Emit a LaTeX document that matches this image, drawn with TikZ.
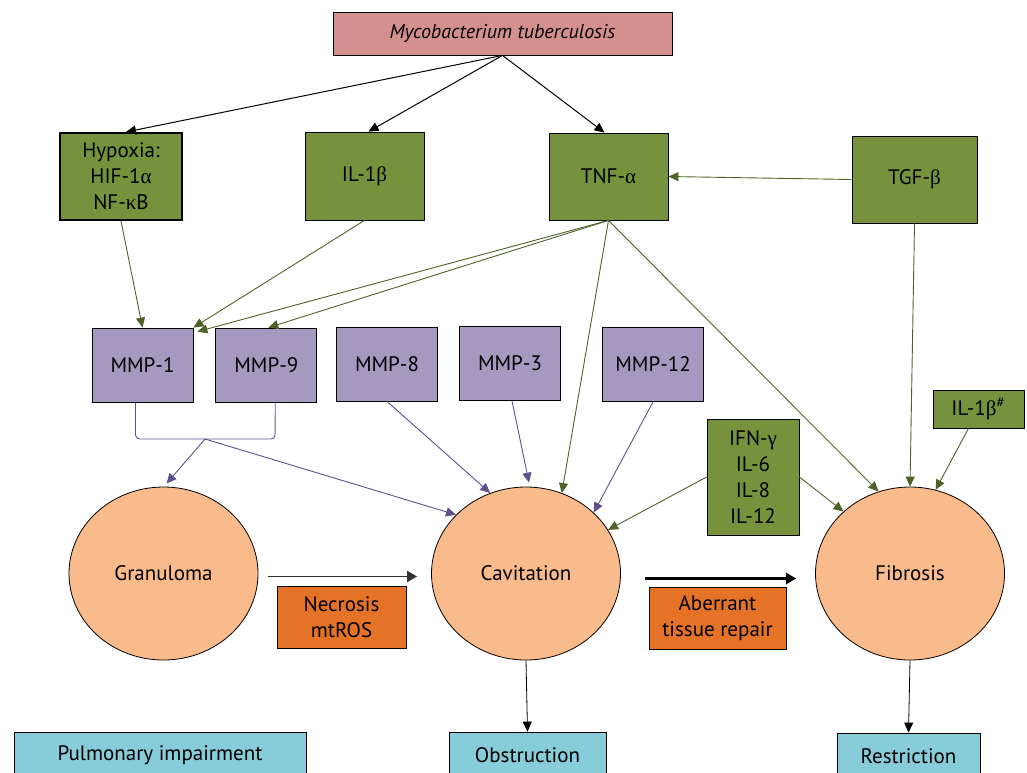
\documentclass[tikz,border=0pt]{standalone}
\usepackage{fontspec}
\setmainfont{PT Sans}
\newfontfamily\grk{Liberation Serif}
\usetikzlibrary{arrows.meta, positioning, calc, shapes.geometric}
\definecolor{MtbPink}{HTML}{D48F8F}
\definecolor{CytoGreen}{HTML}{76923C}
\definecolor{LineGreen}{HTML}{4F6228}
\definecolor{MmpPurple}{HTML}{A699C0}
\definecolor{LinePurple}{HTML}{5F4F8F}
\definecolor{LesionPeach}{HTML}{F9BA8C}
\definecolor{ProcOrange}{HTML}{E57327}
\definecolor{OutBlue}{HTML}{86CCD9}
\newcommand{\gk}[1]{{\grk #1}}
\tikzset{
  srcbox/.style={rectangle, draw=black, fill=MtbPink, font=\itshape, minimum width=169.5pt, minimum height=21.5pt, inner sep=2pt},
  cytobox/.style={rectangle, draw=black, fill=CytoGreen, align=center, inner sep=2pt},
  mmpbox/.style={rectangle, draw=black, fill=MmpPurple, minimum width=50.5pt, minimum height=37pt, inner sep=2pt},
  lesion/.style={ellipse, draw=black, fill=LesionPeach, minimum width=94.5pt, minimum height=86.5pt, inner sep=0pt},
  procbox/.style={rectangle, draw=black, fill=ProcOrange, align=center, minimum height=31pt, inner sep=2pt},
  outbox/.style={rectangle, draw=black, fill=OutBlue, minimum height=23pt, inner sep=2pt},
  blackarrow/.style={-{Triangle[length=5pt, width=4.5pt]}, line width=0.5pt, black},
  greenarrow/.style={-{Triangle[length=5pt, width=4.5pt]}, line width=0.45pt, LineGreen},
  mmparrow/.style={-{Triangle[length=5pt, width=4.5pt]}, line width=0.45pt, LinePurple},
  stagearrow/.style={-{Triangle[length=5pt, width=5.5pt]}, line width=1.4pt, black}
}

\begin{document}
\begin{tikzpicture}[x=0.5pt, y=-0.5pt, font=\fontsize{10.5}{13}\selectfont]
  \clip (0,0) rectangle (1027,772);

  % source
  \node[srcbox] (myco) at (502.5,33.5) {Mycobacterium tuberculosis};

  % cytokines
  \node[cytobox, minimum width=61pt, minimum height=43.5pt, line width=1pt] (hypoxia) at (121,176.5) {Hypoxia:\\HIF-1\gk{α}\\NF-\gk{κ}B};
  \node[cytobox, minimum width=59.5pt, minimum height=44pt] (ilb) at (364.5,176) {IL-1\gk{β}};
  \node[cytobox, minimum width=59.5pt, minimum height=43.5pt] (tnf) at (608.5,176.5) {TNF-\gk{α}};
  \node[cytobox, minimum width=62.5pt, minimum height=43.5pt] (tgf) at (914.5,179.5) {TGF-\gk{β}};
  \node[cytobox, minimum width=45.5pt, minimum height=19pt] (ilbhash) at (978.5,409) {IL-1\gk{β}$^{\#}$};
  \node[cytobox, minimum width=46pt, minimum height=58pt] (ifn) at (753,477) {IFN-\gk{γ}\\IL-6\\IL-8\\IL-12};

  % MMPs
  \node[mmpbox] (mmpone) at (142.5,365) {MMP-1};
  \node[mmpbox, right=11pt of mmpone] (mmpnine) {MMP-9};
  \node[mmpbox] (mmpeight) at (387,364) {MMP-8};
  \node[mmpbox] (mmpthree) at (510,363.5) {MMP-3};
  \node[mmpbox] (mmptwelve) at (653,364.5) {MMP-12};

  % lesions
  \node[lesion] (gran) at (163.5,573.5) {Granuloma};
  \node[lesion] (cav) at (526,573.5) {Cavitation};
  \node[lesion] (fib) at (910,573.5) {Fibrosis};

  \node[procbox, minimum width=64.5pt] (necro) at (341.5,617.5) {Necrosis\\mtROS};
  \node[procbox, minimum width=68.5pt] (aberr) at (717.5,618) {Aberrant\\tissue repair};

  % outcomes
  \node[outbox, minimum width=146pt] (pulm) at (160,755) {Pulmonary impairment};
  \node[outbox, minimum width=78.5pt] (obst) at (527.5,755) {Obstruction};
  \node[outbox, minimum width=71.5pt] (restr) at (908.5,756) {Restriction};

  % Mtb arrows
  \draw[blackarrow] (myco.south) -- ([xshift=2.5pt]hypoxia.north);
  \draw[blackarrow] (myco.south) -- ([xshift=2pt]ilb.north);
  \draw[blackarrow] (myco.south) -- ([xshift=-2pt]tnf.north);

  % cytokine arrows
  \draw[greenarrow] (tgf.west) -- (tnf.east);
  \draw[greenarrow] (hypoxia.south) -- (mmpone.north);
  \draw[greenarrow] (ilb.south) -- (mmpone.north east);
  \draw[greenarrow] (tnf.south) -- ([xshift=2pt,yshift=-2pt]mmpone.north east);
  \draw[greenarrow] (tnf.south) -- ([xshift=1pt]mmpnine.north);
  \draw[greenarrow] (tnf.south) -- (cav.66);
  \draw[greenarrow] (tnf.south) -- (fib.111);
  \draw[greenarrow] (tgf.south) -- (fib.90);
  \draw[greenarrow] ([xshift=-5pt]ilbhash.south) -- (fib.73);
  \draw[greenarrow] (ifn.west) -- (cav.28);
  \draw[greenarrow] (ifn.east) -- (fib.137);

  % MMP arrows
  \coordinate (brmid) at (205,439);
  \draw[LinePurple, line width=0.45pt, rounded corners=2pt] ([xshift=-3.5pt]mmpone.south) |- (275,439) -- ([xshift=4.5pt]mmpnine.south);
  \draw[mmparrow] (brmid) -- ([xshift=1.5pt,yshift=1.5pt]gran.north);
  \draw[mmparrow] (brmid) -- (cav.140);
  \draw[mmparrow] (mmpeight.south) -- (cav.114);
  \draw[mmparrow] ([xshift=1pt]mmpthree.south) -- ([yshift=2pt]cav.88);
  \draw[mmparrow] (mmptwelve.south) -- (cav.42);

  % stage arrows
  \draw[stagearrow, line width=0.9pt, black!80] ([xshift=5pt,yshift=-1.5pt]gran.east) -- ([xshift=-7pt,yshift=-1.5pt]cav.west);
  \draw[stagearrow] ([xshift=12pt,yshift=-2.5pt]cav.east) -- ([xshift=-9.5pt,yshift=-2.5pt]fib.west);
  \draw[blackarrow, line width=0.4pt] (cav.south) -- (obst.north);
  \draw[blackarrow, line width=0.4pt] (fib.south) -- (restr.north);
\end{tikzpicture}
\end{document}
